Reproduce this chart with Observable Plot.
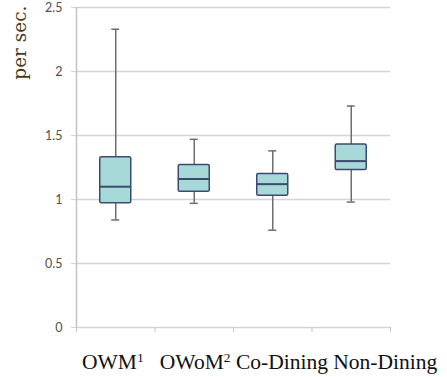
<!DOCTYPE html>
<html><head><meta charset="utf-8">
<script src="https://cdn.jsdelivr.net/npm/d3@7"></script>
<script src="https://cdn.jsdelivr.net/npm/@observablehq/plot@0.6"></script>
<style>
body{margin:0;background:#fff;}
#wrap{position:relative;width:447px;height:377px;overflow:hidden;}
#wrap svg{display:block;}
#cap{position:absolute;left:82px;top:351px;font-family:"Liberation Serif","Times New Roman",serif;font-size:21.5px;line-height:22px;color:#111;white-space:pre;}
#cap sup{font-size:13.5px;vertical-align:baseline;position:relative;top:-7px;}
</style></head><body><div id="wrap"></div>
<script>
const categories = ["OWM", "OWoM", "Co-Dining", "Non-Dining"];
const superscripts = ["1", "2", "", ""];
const whiskerLow  = [0.84, 0.97, 0.76, 0.98];
const q1          = [0.97, 1.06, 1.03, 1.23];
const median      = [1.10, 1.16, 1.12, 1.30];
const q3          = [1.33, 1.27, 1.20, 1.43];
const whiskerHigh = [2.33, 1.47, 1.38, 1.73];
const yTicks = [0, 0.5, 1, 1.5, 2, 2.5];
const yLabel = "per sec.";

const data = categories.map((c, i) => ({
  cat: c, slot: i, center: i + 0.5,
  lo: whiskerLow[i], q1: q1[i], med: median[i], q3: q3[i], hi: whiskerHigh[i]
}));
const slots = d3.range(categories.length + 1);

const W = 447, ML = 76, MR = 57;
const slotPx = (W - ML - MR) / categories.length;
const boxInset = (slotPx - 31) / 2;
const capInset = (slotPx - 8) / 2;

const boxStroke = "#3d4a70";
const boxFill = "#a8d9d9";
const whisk = "#6e6e6e";
const gridC = "#d4d4d4";

const chart = Plot.plot({
  width: W, height: 340,
  marginLeft: ML, marginRight: MR, marginTop: 7, marginBottom: 13,
  style: {fontFamily: "Lato, 'Liberation Sans', sans-serif", fontSize: "12.5px", background: "#fff"},
  x: {type: "linear", domain: [0, categories.length]},
  y: {domain: [0, 2.5]},
  marks: [
    Plot.ruleY(yTicks, {stroke: gridC, strokeWidth: 1.5}),
    Plot.axisY({ticks: yTicks, tickSize: 5, tickPadding: 9, tickFormat: d => String(d), label: null, stroke: gridC, strokeOpacity: 1, fill: "#505050"}),
    Plot.axisX({ticks: slots, tickSize: 5, tickFormat: () => "", label: null, stroke: "#c4c4c4", strokeOpacity: 1}),
    Plot.ruleX([0], {stroke: "#c4c4c4", strokeWidth: 1.5}),
    Plot.ruleX(data, {x: "center", y1: "lo", y2: "hi", stroke: whisk, strokeWidth: 1.5}),
    Plot.ruleY(data, {x1: "slot", x2: d => d.slot + 1, y: "lo", insetLeft: capInset, insetRight: capInset, stroke: whisk, strokeWidth: 1.5}),
    Plot.ruleY(data, {x1: "slot", x2: d => d.slot + 1, y: "hi", insetLeft: capInset, insetRight: capInset, stroke: whisk, strokeWidth: 1.5}),
    Plot.rectY(data, {x1: "slot", x2: d => d.slot + 1, y1: "q1", y2: "q3", insetLeft: boxInset, insetRight: boxInset, fill: boxFill, stroke: boxStroke, strokeWidth: 1.5, rx: 1.5}),
    Plot.ruleY(data, {x1: "slot", x2: d => d.slot + 1, y: "med", insetLeft: boxInset, insetRight: boxInset, stroke: boxStroke, strokeWidth: 2}),
    Plot.text([yLabel], {text: d => d, frameAnchor: "top-left", rotate: -90, textAnchor: "end", lineAnchor: "middle", dx: -56, dy: -2, fontFamily: "'DejaVu Serif', serif", fontSize: 18.5, fill: "#433c1c"})
  ]
});
const wrap = document.getElementById("wrap");
wrap.appendChild(chart);
const cap = document.createElement("div");
cap.id = "cap";
cap.innerHTML = categories.map((c, i) => c + (superscripts[i] ? `<sup>${superscripts[i]}</sup>` : "")).map((s, i) => i === 0 ? s + "  " : s).join(" ");
wrap.appendChild(cap);
</script></body></html>
